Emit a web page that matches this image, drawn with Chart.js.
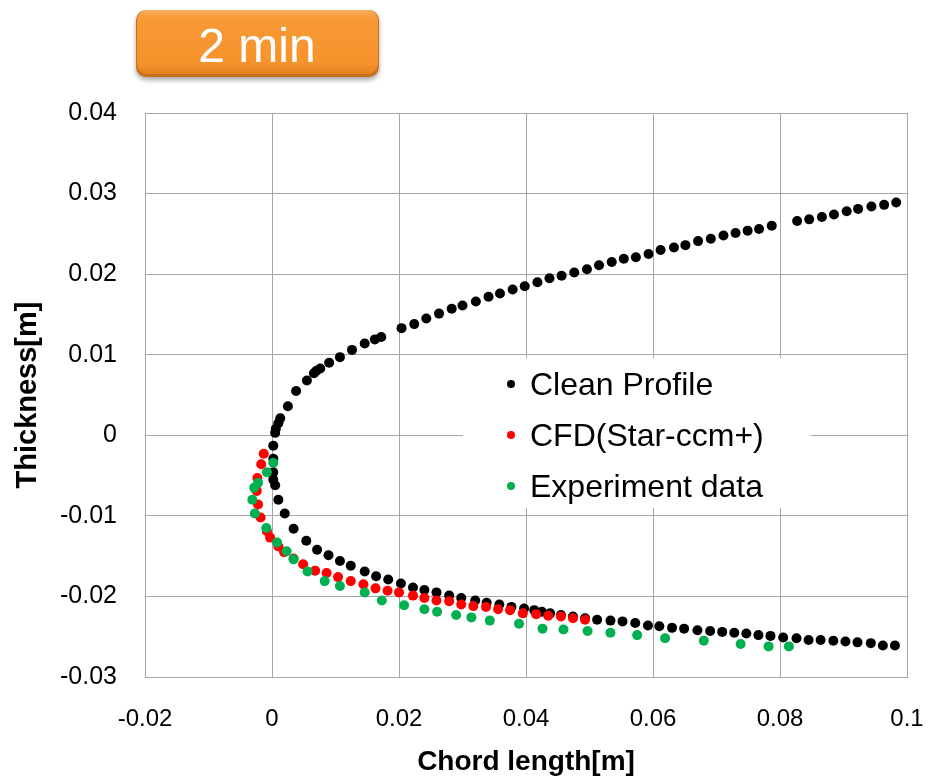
<!DOCTYPE html>
<html>
<head>
<meta charset="utf-8">
<script src="https://cdn.jsdelivr.net/npm/chart.js@4/dist/chart.umd.min.js"></script>
<style>
    body { margin: 0; background: #fff; }
    #box { width: 928px; height: 784px; }
</style>
</head>
<body>
<div id="box"><canvas id="second" width="928" height="784"></canvas></div>
<script>
const seriesNames = ["Clean Profile", "CFD(Star-ccm+)", "Experiment data"];

const xTicks = [-0.02, 0, 0.02, 0.04, 0.06, 0.08, 0.1];
const yTicks = [-0.03, -0.02, -0.01, 0, 0.01, 0.02, 0.03, 0.04];

// clean profile, upper side then lower side
const cleanX = [0.0983, 0.0964, 0.0944, 0.0923, 0.0905, 0.0885, 0.0866, 0.0846, 0.0827,
    0.0787, 0.0767, 0.0749, 0.0730, 0.0711, 0.0691, 0.0671, 0.0651, 0.0633, 0.0612,
    0.0593, 0.0573, 0.0554, 0.0535, 0.0515, 0.0496, 0.0476, 0.0456, 0.0437, 0.0418,
    0.0398, 0.0379, 0.0359, 0.0341, 0.0321, 0.0300, 0.0283, 0.0263, 0.0243, 0.0224, 0.0204,
    0.0172, 0.0162, 0.0146, 0.0126, 0.0107, 0.0090, 0.0076, 0.0070, 0.0066, 0.0055,
    0.0038, 0.0025, 0.0013, 0.0010, 0.0006, 0.0005, 0.0002,
    0.0002, 0.0002, 0.0002, 0.0005, 0.0010, 0.0020, 0.0034, 0.0054, 0.0071, 0.0089,
    0.0107, 0.0124, 0.0146, 0.0164, 0.0183, 0.0203, 0.0222, 0.0240, 0.0259, 0.0279,
    0.0298, 0.0320, 0.0338, 0.0358, 0.0377, 0.0397, 0.0413, 0.0425, 0.0438, 0.0455,
    0.0474, 0.0493, 0.0512, 0.0533, 0.0552, 0.0572, 0.0592, 0.0610, 0.0630, 0.0649,
    0.0670, 0.0690, 0.0709, 0.0728, 0.0747, 0.0766, 0.0785, 0.0805, 0.0826, 0.0845,
    0.0864, 0.0884, 0.0903, 0.0922, 0.0943, 0.0962, 0.0981];
const cleanY = [0.0289, 0.0286, 0.0284, 0.0281, 0.0278, 0.0274, 0.0271, 0.0268, 0.0266,
    0.0260, 0.0256, 0.0254, 0.0251, 0.0248, 0.0244, 0.0241, 0.0236, 0.0233, 0.0230,
    0.0225, 0.0221, 0.0219, 0.0215, 0.0211, 0.0206, 0.0202, 0.0198, 0.0195, 0.0190,
    0.0185, 0.0181, 0.0176, 0.0172, 0.0166, 0.0161, 0.0157, 0.0151, 0.0145, 0.0138, 0.0133,
    0.0122, 0.0119, 0.0114, 0.0106, 0.0097, 0.0090, 0.0083, 0.0080, 0.0077, 0.0068,
    0.0055, 0.0036, 0.0021, 0.0015, 0.0008, 0.0003, -0.0013,
    -0.0029, -0.0046, -0.0055, -0.0062, -0.0080, -0.0097, -0.0116, -0.0131, -0.0142, -0.0149,
    -0.0156, -0.0162, -0.0169, -0.0175, -0.0179, -0.0184, -0.0189, -0.0192, -0.0195, -0.0199,
    -0.0202, -0.0205, -0.0208, -0.0210, -0.0213, -0.0215, -0.0217, -0.0219, -0.0221, -0.0223,
    -0.0225, -0.0227, -0.0229, -0.0230, -0.0231, -0.0233, -0.0236, -0.0237, -0.0239, -0.0240,
    -0.0242, -0.0243, -0.0244, -0.0245, -0.0246, -0.0248, -0.0249, -0.0251, -0.0252, -0.0254,
    -0.0254, -0.0255, -0.0256, -0.0257, -0.0258, -0.0261, -0.0261];

const cfdX = [-0.0013, -0.0017, -0.0023, -0.0024, -0.0022, -0.0018, -0.0008, -0.0003, 0.0010, 0.0019,
    0.0034, 0.0049, 0.0068, 0.0086, 0.0104, 0.0124, 0.0144, 0.0163, 0.0182, 0.0200,
    0.0222, 0.0240, 0.0259, 0.0279, 0.0298, 0.0317, 0.0337, 0.0356, 0.0375, 0.0395,
    0.0416, 0.0435, 0.0455, 0.0474, 0.0493];
const cfdY = [-0.0023, -0.0036, -0.0053, -0.0069, -0.0086, -0.0102, -0.0119, -0.0127, -0.0138, -0.0145,
    -0.0153, -0.0160, -0.0168, -0.0171, -0.0176, -0.0181, -0.0185, -0.0190, -0.0193, -0.0195,
    -0.0199, -0.0202, -0.0205, -0.0206, -0.0210, -0.0212, -0.0213, -0.0216, -0.0217, -0.0221,
    -0.0222, -0.0224, -0.0225, -0.0227, -0.0229];

const expX = [0.0002, -0.0008, -0.0022, -0.0028, -0.0031, -0.0027, -0.0009, 0.0008, 0.0023, 0.0034,
    0.0056, 0.0083, 0.0107, 0.0146, 0.0173, 0.0208, 0.0240, 0.0260, 0.0290, 0.0314,
    0.0343, 0.0389, 0.0426, 0.0459, 0.0497, 0.0533, 0.0575, 0.0619, 0.0680, 0.0738,
    0.0782, 0.0814];
const expY = [-0.0034, -0.0046, -0.0059, -0.0065, -0.0080, -0.0097, -0.0115, -0.0133, -0.0144, -0.0154,
    -0.0169, -0.0181, -0.0187, -0.0195, -0.0205, -0.0211, -0.0216, -0.0219, -0.0223, -0.0226,
    -0.0230, -0.0234, -0.0240, -0.0241, -0.0243, -0.0245, -0.0248, -0.0252, -0.0255, -0.0259,
    -0.0262, -0.0262];

const colors = ["#000000", "#ff0000", "#00b050"];
const font = "'Liberation Sans', Arial, sans-serif";

function pts(xs, ys) {
    return xs.map(function (x, i) { return { x: x, y: ys[i] }; });
}

function tickText(v) {
    return String(Number(v.toFixed(2)));
}

// orange "2 min" badge above the plot
const badge = {
    id: 'badge',
    afterDraw(chart) {
        const ctx = chart.ctx;
        ctx.save();
        ctx.shadowColor = 'rgba(0,0,0,0.35)';
        ctx.shadowBlur = 5;
        ctx.shadowOffsetY = 3;
        ctx.fillStyle = '#c8701c';
        ctx.beginPath();
        ctx.roundRect(136, 10, 243, 67, 10);
        ctx.fill();
        ctx.restore();

        ctx.save();
        const g = ctx.createLinearGradient(0, 10, 0, 77);
        g.addColorStop(0, '#fbb060');
        g.addColorStop(0.12, '#f89a36');
        g.addColorStop(0.8, '#f6922b');
        g.addColorStop(1, '#e07d1c');
        ctx.fillStyle = g;
        ctx.beginPath();
        ctx.roundRect(137, 10, 241, 64, 10);
        ctx.fill();
        ctx.fillStyle = '#ffffff';
        ctx.font = "48px " + font;
        ctx.textAlign = 'center';
        ctx.textBaseline = 'alphabetic';
        ctx.fillText('2 min', 257, 62);
        ctx.restore();
    }
};

// legend box drawn inside the plot
const legendBox = {
    id: 'legendBox',
    afterDraw(chart) {
        const ctx = chart.ctx;
        ctx.save();
        ctx.fillStyle = '#ffffff';
        ctx.fillRect(463, 358, 348, 150);
        ctx.font = "32px " + font;
        ctx.textAlign = 'left';
        ctx.textBaseline = 'alphabetic';
        chart.data.datasets.forEach(function (ds, i) {
            const cy = 384 + i * 51;
            ctx.fillStyle = ds.backgroundColor;
            ctx.beginPath();
            ctx.arc(511, cy, 4, 0, Math.PI * 2);
            ctx.fill();
            ctx.fillStyle = '#000000';
            ctx.fillText(ds.label, 530, cy + 11);
        });
        ctx.restore();
    }
};

const chartId = document.getElementById('second');

const airfoil = new Chart(chartId, {
    type: 'scatter',
    data: {
        datasets: [
            {
                label: seriesNames[0],
                data: pts(cleanX, cleanY),
                backgroundColor: colors[0],
                borderWidth: 0,
                pointRadius: 5,
                order: 3
            },
            {
                label: seriesNames[1],
                data: pts(cfdX, cfdY),
                backgroundColor: colors[1],
                borderWidth: 0,
                pointRadius: 5,
                order: 2
            },
            {
                label: seriesNames[2],
                data: pts(expX, expY),
                backgroundColor: colors[2],
                borderWidth: 0,
                pointRadius: 5,
                order: 1
            },
        ]
    },
    options: {
        responsive: false,
        animation: false,
        layout: { padding: { left: 0, right: 21, top: 113, bottom: 0 } },
        plugins: {
            legend: { display: false },
            tooltip: { enabled: false }
        },
        scales: {
            x: {
                type: 'linear',
                min: -0.02,
                max: 0.1,
                afterBuildTicks: function (s) { s.ticks = xTicks.map(function (v) { return { value: v }; }); },
                afterFit: function (s) { s.height = 107; s.paddingLeft = 0; s.paddingRight = 0; },
                grid: { color: '#a6a6a6', drawTicks: false },
                border: { color: '#a6a6a6' },
                ticks: {
                    padding: 28,
                    color: '#000',
                    font: { family: font, size: 24 },
                    callback: tickText
                },
                title: {
                    display: true,
                    text: 'Chord length[m]',
                    color: '#000',
                    font: { family: font, size: 28, weight: 'bold' },
                    padding: { top: 0, bottom: 5 }
                }
            },
            y: {
                type: 'linear',
                min: -0.03,
                max: 0.04,
                afterBuildTicks: function (s) { s.ticks = yTicks.map(function (v) { return { value: v }; }); },
                afterFit: function (s) { s.width = 145; s.paddingTop = 0; s.paddingBottom = 0; },
                grid: { color: '#a6a6a6', drawTicks: false },
                border: { color: '#a6a6a6' },
                ticks: {
                    padding: 28,
                    color: '#000',
                    font: { family: font, size: 25 },
                    callback: tickText
                },
                title: {
                    display: true,
                    text: 'Thickness[m]',
                    color: '#000',
                    font: { family: font, size: 29, weight: 'bold' },
                    padding: { top: 11, bottom: 0 }
                }
            }
        }
    },
    plugins: [badge, legendBox]
});
</script>
</body>
</html>
